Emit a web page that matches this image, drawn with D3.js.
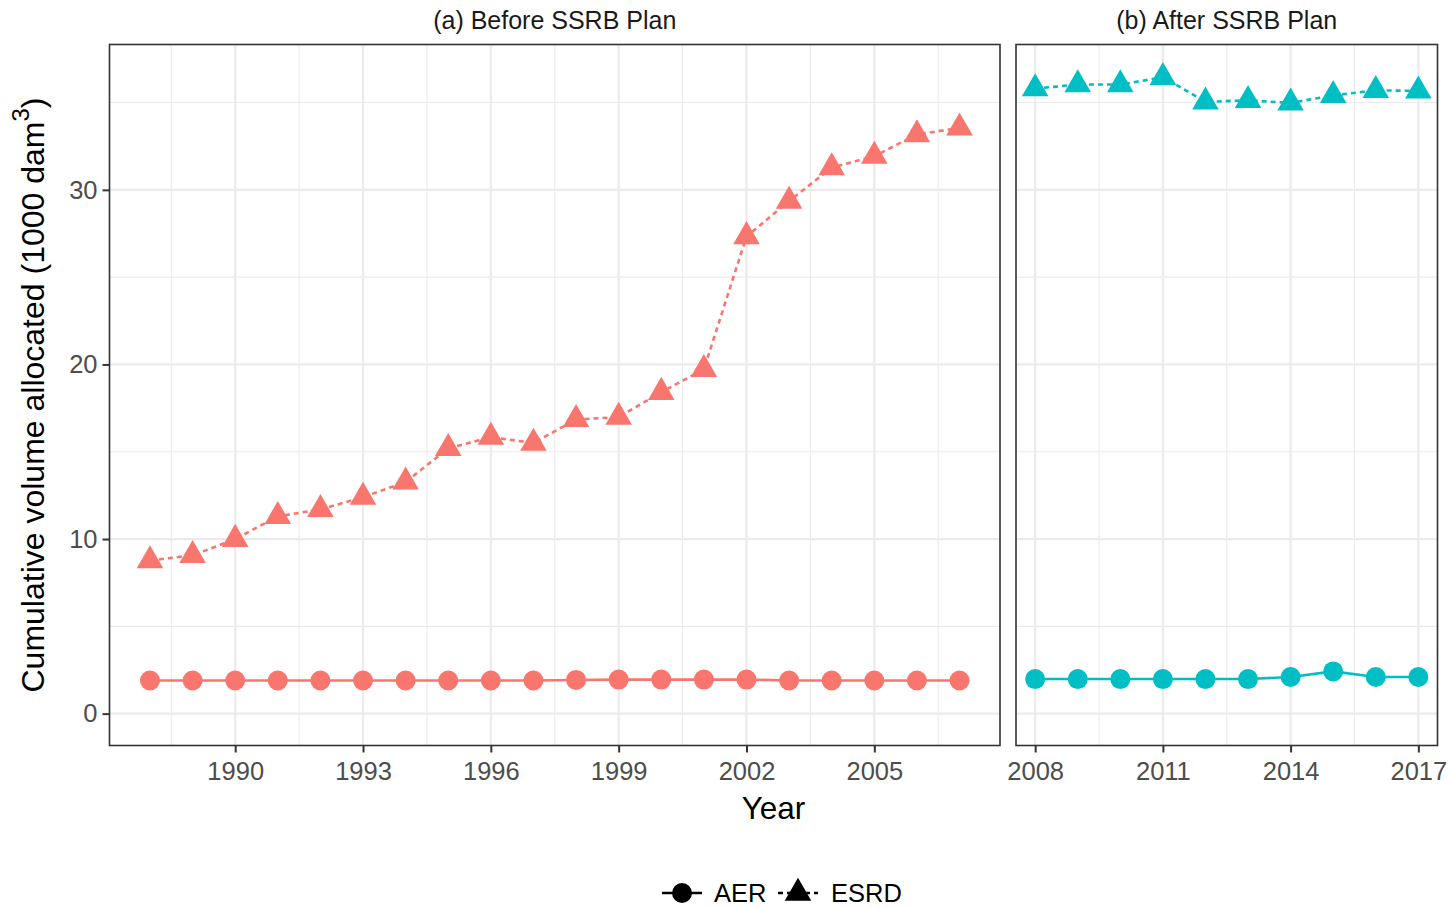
<!DOCTYPE html>
<html>
<head>
<meta charset="utf-8">
<script src="https://cdn.jsdelivr.net/npm/d3@7"></script>
<style>
  html, body { margin: 0; padding: 0; background: #fff; }
  svg { display: block; font-family: "Liberation Sans", Arial, sans-serif; }
</style>
</head>
<body>
<svg id="chart" width="1448" height="907"></svg>
<script>
// Cumulative volume allocated, before and after the SSRB Plan
const beforeYears = [1988, 1989, 1990, 1991, 1992, 1993, 1994, 1995, 1996, 1997,
                     1998, 1999, 2000, 2001, 2002, 2003, 2004, 2005, 2006, 2007];
const beforeAER  = [1.9, 1.9, 1.9, 1.9, 1.9, 1.9, 1.9, 1.9, 1.9, 1.9,
                    1.93, 1.95, 1.95, 1.95, 1.95, 1.9, 1.9, 1.9, 1.9, 1.9];
const beforeESRD = [8.77, 9.07, 9.99, 11.3, 11.7, 12.4, 13.27, 15.19, 15.84, 15.5,
                    16.85, 16.98, 18.41, 19.72, 27.33, 29.36, 31.27, 31.93, 33.17, 33.55];

const afterYears = [2008, 2009, 2010, 2011, 2012, 2013, 2014, 2015, 2016, 2017];
const afterAER   = [1.98, 1.98, 1.98, 1.98, 1.98, 1.98, 2.1, 2.42, 2.1, 2.1];
const afterESRD  = [35.8, 36.03, 36.03, 36.45, 35.04, 35.13, 34.98, 35.41, 35.7, 35.67];

const beforeTicks = [1990, 1993, 1996, 1999, 2002, 2005];
const afterTicks  = [2008, 2011, 2014, 2017];
const beforeMinor = [1988.5, 1991.5, 1994.5, 1997.5, 2000.5, 2003.5, 2006.5];
const afterMinor  = [2009.5, 2012.5, 2015.5];
const yTicks = [0, 10, 20, 30];
const yMinor = [5, 15, 25, 35];

const seriesNames = ["AER", "ESRD"];
const colBefore = "#F8766D";
const colAfter  = "#00BFC4";

const svg = d3.select("#chart");
const plotTop = 44.5, plotBottom = 745.5;

const y = d3.scaleLinear().domain([-1.825, 38.325]).range([plotBottom, plotTop]);

const panels = [
  { title: "(a) Before SSRB Plan", x0: 109.5, x1: 1000,
    domain: [1987.05, 2007.95], years: beforeYears, aer: beforeAER, esrd: beforeESRD,
    ticks: beforeTicks, minor: beforeMinor, color: colBefore },
  { title: "(b) After SSRB Plan", x0: 1016, x1: 1437.5,
    domain: [2007.55, 2017.45], years: afterYears, aer: afterAER, esrd: afterESRD,
    ticks: afterTicks, minor: afterMinor, color: colAfter }
];

const triangle = d3.symbol().type(d3.symbolTriangle).size(306);

panels.forEach((p, pi) => {
  const x = d3.scaleLinear().domain(p.domain).range([p.x0, p.x1]);
  const g = svg.append("g");

  // grid: minor then major
  g.selectAll(".ymin").data(yMinor).join("line")
    .attr("x1", p.x0).attr("x2", p.x1)
    .attr("y1", d => y(d)).attr("y2", d => y(d))
    .attr("stroke", "#EBEBEB").attr("stroke-width", 1.1);
  g.selectAll(".xmin").data(p.minor).join("line")
    .attr("x1", d => x(d)).attr("x2", d => x(d))
    .attr("y1", plotTop).attr("y2", plotBottom)
    .attr("stroke", "#EBEBEB").attr("stroke-width", 1.1);
  g.selectAll(".ymaj").data(yTicks).join("line")
    .attr("x1", p.x0).attr("x2", p.x1)
    .attr("y1", d => y(d)).attr("y2", d => y(d))
    .attr("stroke", "#EBEBEB").attr("stroke-width", 2.2);
  g.selectAll(".xmaj").data(p.ticks).join("line")
    .attr("x1", d => x(d)).attr("x2", d => x(d))
    .attr("y1", plotTop).attr("y2", plotBottom)
    .attr("stroke", "#EBEBEB").attr("stroke-width", 2.2);

  const line = d3.line().x(d => x(d[0])).y(d => y(d[1]));
  const aerPts = p.years.map((yr, i) => [yr, p.aer[i]]);
  const esrdPts = p.years.map((yr, i) => [yr, p.esrd[i]]);

  g.append("path").attr("d", line(aerPts)).attr("fill", "none")
    .attr("stroke", p.color).attr("stroke-width", 2.6);
  g.append("path").attr("d", line(esrdPts)).attr("fill", "none")
    .attr("stroke", p.color).attr("stroke-width", 2.6)
    .attr("stroke-dasharray", "5,4");

  g.selectAll(".aer").data(aerPts).join("circle")
    .attr("cx", d => x(d[0])).attr("cy", d => y(d[1])).attr("r", 10)
    .attr("fill", p.color);
  g.selectAll(".esrd").data(esrdPts).join("path")
    .attr("d", triangle)
    .attr("transform", d => `translate(${x(d[0])},${y(d[1])})`)
    .attr("fill", p.color);

  // panel border
  g.append("rect").attr("x", p.x0).attr("y", plotTop)
    .attr("width", p.x1 - p.x0).attr("height", plotBottom - plotTop)
    .attr("fill", "none").attr("stroke", "#333333").attr("stroke-width", 1.6);

  // x axis
  const xa = svg.append("g").attr("transform", `translate(0,${plotBottom})`)
    .call(d3.axisBottom(x).tickValues(p.ticks).tickFormat(d3.format("d"))
      .tickSize(7).tickPadding(9));
  xa.select(".domain").remove();
  xa.selectAll(".tick line").attr("stroke", "#333333").attr("stroke-width", 2);
  xa.selectAll(".tick text").attr("fill", "#4D4D4D").attr("font-size", 25.5)
    .attr("font-family", "Liberation Sans, Arial, sans-serif").attr("dy", "0.71em");

  // strip title
  svg.append("text").attr("x", (p.x0 + p.x1) / 2).attr("y", 29)
    .attr("text-anchor", "middle").attr("font-size", 25).attr("fill", "#1A1A1A")
    .text(p.title);

  if (pi === 0) {
    const ya = svg.append("g").attr("transform", `translate(${p.x0},0)`)
      .call(d3.axisLeft(y).tickValues(yTicks).tickSize(7).tickPadding(5));
    ya.select(".domain").remove();
    ya.selectAll(".tick line").attr("stroke", "#333333").attr("stroke-width", 2);
    ya.selectAll(".tick text").attr("fill", "#4D4D4D").attr("font-size", 25.5)
      .attr("font-family", "Liberation Sans, Arial, sans-serif");
  }
});

// axis titles
svg.append("text").attr("x", 773.5).attr("y", 819)
  .attr("text-anchor", "middle").attr("font-size", 31.5).attr("fill", "#000")
  .text("Year");

const yt = svg.append("text")
  .attr("transform", `translate(44,${(plotTop + plotBottom) / 2}) rotate(-90)`)
  .attr("text-anchor", "middle").attr("font-size", 32).attr("fill", "#000");
yt.append("tspan").text("Cumulative volume allocated (1000 dam");
yt.append("tspan").attr("font-size", 24).attr("dy", -15).text("3");
yt.append("tspan").attr("dy", 15).text(")");

// legend
const lg = svg.append("g");
const legendY = 893;
const keys = [
  { name: seriesNames[0], x0: 662, dash: null, shape: "circle", tx: 714 },
  { name: seriesNames[1], x0: 778, dash: "5,4", shape: "triangle", tx: 831 }
];
keys.forEach(k => {
  lg.append("line").attr("x1", k.x0).attr("x2", k.x0 + 40)
    .attr("y1", legendY).attr("y2", legendY)
    .attr("stroke", "#000").attr("stroke-width", 2.6)
    .attr("stroke-dasharray", k.dash);
  if (k.shape === "circle") {
    lg.append("circle").attr("cx", k.x0 + 20).attr("cy", legendY).attr("r", 10).attr("fill", "#000");
  } else {
    lg.append("path").attr("d", triangle).attr("transform", `translate(${k.x0 + 20},${legendY})`).attr("fill", "#000");
  }
  lg.append("text").attr("x", k.tx).attr("y", legendY + 9)
    .attr("font-size", 25.5).attr("fill", "#000").text(k.name);
});
</script>
</body>
</html>
